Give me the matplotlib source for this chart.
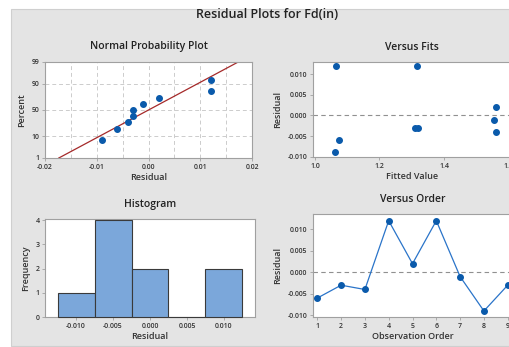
import numpy as np
import matplotlib
matplotlib.use("Agg")
import matplotlib.pyplot as plt
from matplotlib.patches import Rectangle
from statistics import NormalDist

# residuals in observation order and their fitted values
order = [1, 2, 3, 4, 5, 6, 7, 8, 9]
residuals = [-0.006, -0.003, -0.004, 0.012, 0.002, 0.012, -0.001, -0.009, -0.003]
fitted = [1.075, 1.310, 1.560, 1.065, 1.560, 1.315, 1.555, 1.063, 1.318]

npp_xticks = [-0.02, -0.01, 0.0, 0.01, 0.02]
npp_yticks = [1, 10, 50, 90, 99]
res_ticks = [-0.010, -0.005, 0.0, 0.005, 0.010]
fit_ticks = [1.0, 1.2, 1.4, 1.6]
hist_bins = [-0.0125, -0.0075, -0.0025, 0.0025, 0.0075, 0.0125]

W, H = 509, 347
plt.rcParams['font.family'] = ['Open Sans', 'DejaVu Sans']
fig = plt.figure(figsize=(W / 100, H / 100), dpi=100)
fig.patch.set_facecolor('white')

# grey panel behind the plots
fig.patches.append(Rectangle((11 / W, 1 / H), 1, (H - 10) / H, transform=fig.transFigure,
                             facecolor='#e4e4e4', edgecolor='#cfcfcf', lw=0.8, zorder=-5))

blue = '#0a5aab'
spine_c = '#a0a0a0'


def box(l, t, r, b):
    return fig.add_axes([l / W, 1 - b / H, (r - l) / W, (b - t) / H])


def style(ax, title, xlabel, ylabel):
    for s in ax.spines.values():
        s.set_color(spine_c)
        s.set_linewidth(0.8)
    ax.tick_params(length=2.5, width=0.6, color=spine_c, labelsize=5, pad=1.5, labelcolor='#333333')
    for lab in ax.get_xticklabels() + ax.get_yticklabels():
        lab.set_fontweight('semibold')
    ax.set_title(title, fontsize=7.5, fontweight='semibold', pad=9, color='#222222')
    ax.set_xlabel(xlabel, fontsize=6.5, fontweight='semibold', labelpad=2, color='#333333')
    ax.set_ylabel(ylabel, fontsize=6.5, fontweight='semibold', labelpad=4, color='#333333')


fig.text(267 / W, 1 - 15 / H, 'Residual Plots for Fd(in)', ha='center', va='center',
         fontsize=9, fontweight='semibold', color='#222222')

# normal probability plot
ax1 = box(45, 62, 252, 158)
probit = np.vectorize(lambda p: NormalDist().inv_cdf(min(max(p / 100, 1e-9), 1 - 1e-9)),
                      otypes=[float])
cdf = np.vectorize(lambda z: NormalDist().cdf(z) * 100, otypes=[float])
ax1.set_yscale('function', functions=(probit, cdf))
srt = np.sort(residuals)
n = len(srt)
pct = (np.arange(1, n + 1) - 0.3) / (n + 0.4) * 100
dist = NormalDist(np.mean(residuals), np.std(residuals, ddof=1))
ax1.plot([dist.inv_cdf(0.01), dist.inv_cdf(0.99)], [1, 99], color='#a52a2a', lw=0.9, zorder=2)
ax1.plot(srt, pct, 'o', color=blue, ms=4, zorder=3)
ax1.set_xlim(-0.02, 0.02)
ax1.set_ylim(1, 99)
ax1.set_xticks(npp_xticks)
ax1.set_xticklabels(['%.2f' % v for v in npp_xticks])
ax1.set_yticks(npp_yticks)
ax1.set_yticklabels([str(v) for v in npp_yticks])
ax1.minorticks_off()
for xv in np.arange(-0.015, 0.016, 0.005):
    ax1.axvline(xv, color='#cccccc', lw=0.7, ls=(0, (4, 3)), zorder=1)
for yv in [10, 50, 90]:
    ax1.axhline(yv, color='#cccccc', lw=0.7, ls=(0, (4, 3)), zorder=1)
style(ax1, 'Normal Probability Plot', 'Residual', 'Percent')

# versus fits
ax2 = box(313, 62, 510.5, 157)
ax2.plot(fitted, residuals, 'o', color=blue, ms=4, zorder=3)
ax2.axhline(0, color='#909090', lw=0.8, ls=(0, (4, 3)), zorder=1)
ax2.set_xlim(0.994, 1.606)
ax2.set_ylim(-0.0101, 0.013)
ax2.set_xticks(fit_ticks)
ax2.set_xticklabels(['%.1f' % v for v in fit_ticks])
ax2.set_yticks(res_ticks)
ax2.set_yticklabels(['%.3f' % v for v in res_ticks])
style(ax2, 'Versus Fits', 'Fitted Value', 'Residual')

# histogram
ax3 = box(45, 219, 255, 317)
counts, edges, bars = ax3.hist(residuals, bins=hist_bins, color='#7ba7da',
                               edgecolor='#3a3a3a', linewidth=0.8)
for b in bars:
    b.set_zorder(3)
    b.set_clip_on(False)
ax3.set_xlim(-0.0142, 0.0142)
ax3.set_ylim(0, 4.05)
ax3.set_xticks(res_ticks)
ax3.set_xticklabels(['%.3f' % v for v in res_ticks])
ax3.set_yticks([0, 1, 2, 3, 4])
style(ax3, 'Histogram', 'Residual', 'Frequency')

# versus order
ax4 = box(313, 214, 512, 317)
ax4.plot(order, residuals, '-', color='#2a74c9', lw=0.9, zorder=2)
ax4.plot(order, residuals, 'o', color=blue, ms=4, zorder=3)
ax4.axhline(0, color='#909090', lw=0.8, ls=(0, (4, 3)), zorder=1)
ax4.set_xlim(0.82, 9.18)
ax4.set_ylim(-0.0104, 0.01356)
ax4.set_xticks(order)
ax4.set_yticks(res_ticks)
ax4.set_yticklabels(['%.3f' % v for v in res_ticks])
style(ax4, 'Versus Order', 'Observation Order', 'Residual')

fig.savefig('out.png', dpi=100)
